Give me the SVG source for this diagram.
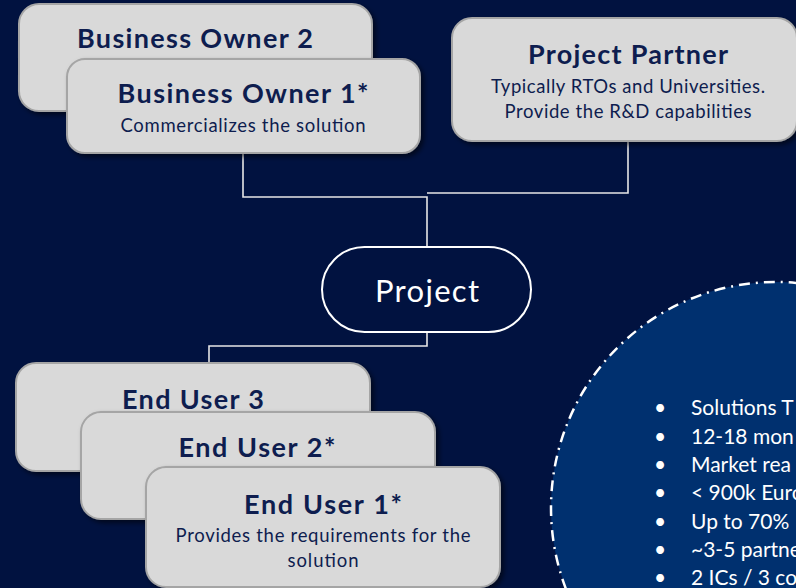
<svg xmlns="http://www.w3.org/2000/svg" width="796" height="588" viewBox="0 0 796 588">
<defs>
<filter id="sh" x="-10%" y="-10%" width="125%" height="130%">
<feDropShadow dx="3" dy="3" stdDeviation="2.5" flood-color="#000000" flood-opacity="0.55"/>
</filter>
<style>
.box{fill:#d9d9d9;stroke:#a5a5a5;stroke-width:2;filter:url(#sh)}
.t{font-family:Lato,"Liberation Sans",sans-serif;font-weight:bold;fill:#0e1d4f;text-anchor:middle;font-size:27px}
.s{font-family:Lato,"Liberation Sans",sans-serif;fill:#0e1d4f;text-anchor:middle;font-size:18.5px}
.w{font-family:Lato,"Liberation Sans",sans-serif;fill:#ffffff}
.c{fill:none;stroke:#e6e6e6;stroke-width:1.6}
</style>
</defs>
<rect width="796" height="588" fill="#011240"/>
<g id="scope">
<ellipse cx="776" cy="508" rx="225" ry="226" fill="#00306f" stroke="#ffffff" stroke-width="2.5" stroke-dasharray="11 6 2 6"/>
<g class="w" font-size="21">
<text x="654" y="415">•</text><text x="691" y="415">Solutions T</text>
<text x="654" y="443.5">•</text><text x="691" y="443.5">12-18 mon</text>
<text x="654" y="472">•</text><text x="691" y="472">Market rea</text>
<text x="654" y="500">•</text><text x="691" y="500">&lt; 900k Euro</text>
<text x="654" y="528.5">•</text><text x="691" y="528.5">Up to 70%</text>
<text x="654" y="557">•</text><text x="691" y="557">~3-5 partne</text>
<text x="654" y="585">•</text><text x="691" y="585">2 ICs / 3 co</text>
</g>
</g>
<g id="connectors">
<polyline class="c" points="243,153 243,197 427,197 427,247"/>
<polyline class="c" points="628,141 628,193 427,193"/>
<polyline class="c" points="427,332 427,346 209,346 209,363"/>
</g>
<g id="business-owner-2">
<rect class="box" x="19" y="4" width="353" height="107" rx="20"/>
<text class="t" x="195" y="48" textLength="236">Business Owner 2</text>
</g>
<g id="business-owner-1">
<rect class="box" x="67" y="59" width="353" height="94" rx="18"/>
<text class="t" x="243" y="103" textLength="251">Business Owner 1*</text>
<text class="s" x="243" y="132" textLength="245">Commercializes the solution</text>
</g>
<g id="project-partner">
<rect class="box" x="452" y="18" width="345" height="123" rx="20"/>
<text class="t" x="628" y="64" textLength="200">Project Partner</text>
<text class="s" x="628" y="93" textLength="274">Typically RTOs and Universities.</text>
<text class="s" x="628" y="118" textLength="247">Provide the R&amp;D capabilities</text>
</g>
<g id="project">
<rect x="322" y="247" width="209" height="85" rx="42.5" fill="#011240" stroke="#ffffff" stroke-width="2"/>
<text class="w" x="427" y="302" font-size="31" text-anchor="middle" textLength="104">Project</text>
</g>
<g id="end-user-3">
<rect class="box" x="16" y="363" width="354" height="108" rx="20"/>
<text class="t" x="193" y="409" textLength="142">End User 3</text>
</g>
<g id="end-user-2">
<rect class="box" x="81" y="412" width="354" height="107" rx="20"/>
<text class="t" x="257" y="457" textLength="157">End User 2*</text>
</g>
<g id="end-user-1">
<rect class="box" x="146" y="467" width="354" height="120" rx="20"/>
<text class="t" x="323" y="514" textLength="158">End User 1*</text>
<text class="s" x="323" y="542" textLength="295">Provides the requirements for the</text>
<text class="s" x="323" y="567" textLength="71">solution</text>
</g>
</svg>
